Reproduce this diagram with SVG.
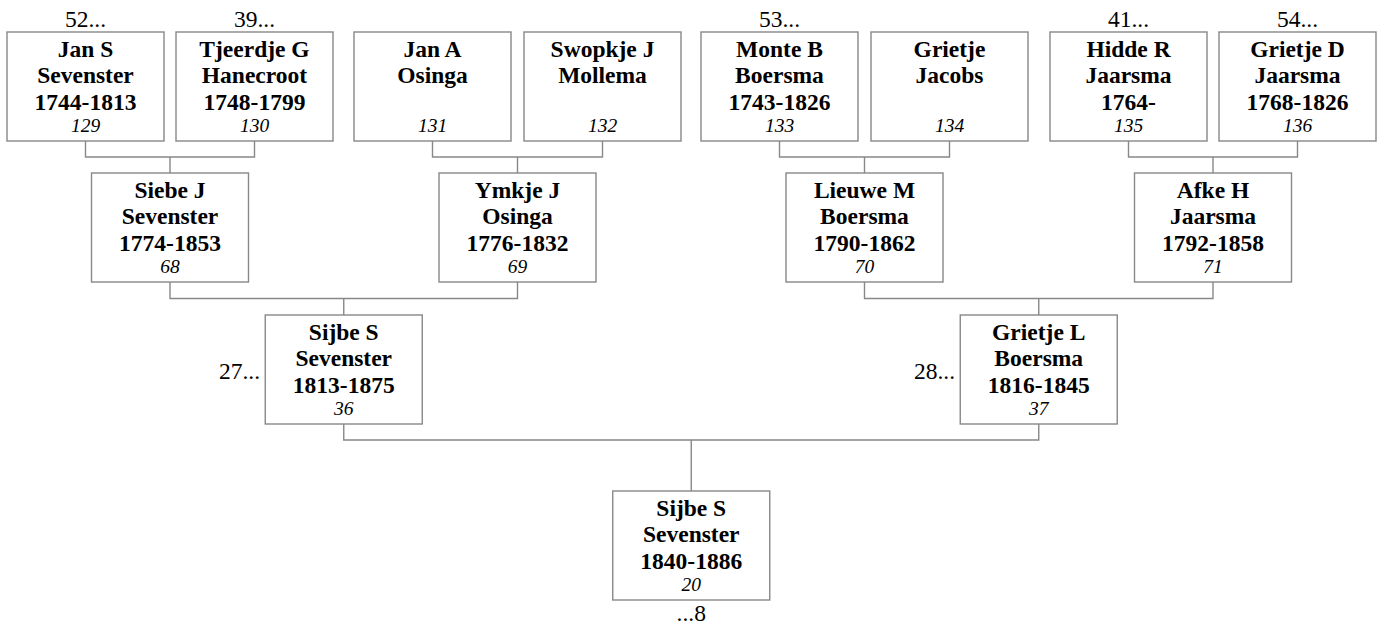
<svg xmlns="http://www.w3.org/2000/svg" width="1380" height="626" viewBox="0 0 1380 626">
<style>
rect.box{fill:#fff;stroke:#888;stroke-width:1.4}
.b{font-family:"Liberation Serif","Times New Roman",serif;font-weight:bold;font-size:23.5px;text-anchor:middle;fill:#000}
.i{font-family:"Liberation Serif","Times New Roman",serif;font-style:italic;font-size:19.5px;text-anchor:middle;fill:#000}
.r{font-family:"Liberation Serif","Times New Roman",serif;font-size:23.5px;fill:#000}
#connectors path{fill:none;stroke:#888;stroke-width:1.4}
</style>
<rect width="1380" height="626" fill="#fff"/>
<g id="connectors">
<path d="M85.5 141V157H254.5V141M170 157V173"/>
<path d="M432.5 141V157H602.5V141M517.5 157V173"/>
<path d="M779.5 141V157H949.5V141M864.5 157V173"/>
<path d="M1128.5 141V157H1297.5V141M1213 157V173"/>
<path d="M170 282V298.5H517.5V282M343.75 298.5V315"/>
<path d="M864.5 282V298.5H1213V282M1038.75 298.5V315"/>
<path d="M343.75 424V440H1038.75V424M691.25 440V491"/>
</g>
<g id="n129"><rect class="box" x="7" y="32" width="157" height="109"/>
<text class="r" x="85.5" y="26.5" text-anchor="middle">52...</text>
<text class="b" x="85.5" y="56.5">Jan S</text><text class="b" x="85.5" y="83">Sevenster</text><text class="b" x="85.5" y="109.6">1744-1813</text><text class="i" x="85.5" y="131.5">129</text></g>
<g id="n130"><rect class="box" x="176" y="32" width="157" height="109"/>
<text class="r" x="254.5" y="26.5" text-anchor="middle">39...</text>
<text class="b" x="254.5" y="56.5">Tjeerdje G</text><text class="b" x="254.5" y="83">Hanecroot</text><text class="b" x="254.5" y="109.6">1748-1799</text><text class="i" x="254.5" y="131.5">130</text></g>
<g id="n131"><rect class="box" x="354" y="32" width="157" height="109"/>
<text class="b" x="432.5" y="56.5">Jan A</text><text class="b" x="432.5" y="83">Osinga</text><text class="i" x="432.5" y="131.5">131</text></g>
<g id="n132"><rect class="box" x="524" y="32" width="157" height="109"/>
<text class="b" x="602.5" y="56.5">Swopkje J</text><text class="b" x="602.5" y="83">Mollema</text><text class="i" x="602.5" y="131.5">132</text></g>
<g id="n133"><rect class="box" x="701" y="32" width="157" height="109"/>
<text class="r" x="779.5" y="26.5" text-anchor="middle">53...</text>
<text class="b" x="779.5" y="56.5">Monte B</text><text class="b" x="779.5" y="83">Boersma</text><text class="b" x="779.5" y="109.6">1743-1826</text><text class="i" x="779.5" y="131.5">133</text></g>
<g id="n134"><rect class="box" x="871" y="32" width="157" height="109"/>
<text class="b" x="949.5" y="56.5">Grietje</text><text class="b" x="949.5" y="83">Jacobs</text><text class="i" x="949.5" y="131.5">134</text></g>
<g id="n135"><rect class="box" x="1050" y="32" width="157" height="109"/>
<text class="r" x="1128.5" y="26.5" text-anchor="middle">41...</text>
<text class="b" x="1128.5" y="56.5">Hidde R</text><text class="b" x="1128.5" y="83">Jaarsma</text><text class="b" x="1128.5" y="109.6">1764-</text><text class="i" x="1128.5" y="131.5">135</text></g>
<g id="n136"><rect class="box" x="1219" y="32" width="157" height="109"/>
<text class="r" x="1297.5" y="26.5" text-anchor="middle">54...</text>
<text class="b" x="1297.5" y="56.5">Grietje D</text><text class="b" x="1297.5" y="83">Jaarsma</text><text class="b" x="1297.5" y="109.6">1768-1826</text><text class="i" x="1297.5" y="131.5">136</text></g>
<g id="n68"><rect class="box" x="91.5" y="173" width="157" height="109"/>
<text class="b" x="170" y="197.5">Siebe J</text><text class="b" x="170" y="224">Sevenster</text><text class="b" x="170" y="250.6">1774-1853</text><text class="i" x="170" y="272.5">68</text></g>
<g id="n69"><rect class="box" x="439" y="173" width="157" height="109"/>
<text class="b" x="517.5" y="197.5">Ymkje J</text><text class="b" x="517.5" y="224">Osinga</text><text class="b" x="517.5" y="250.6">1776-1832</text><text class="i" x="517.5" y="272.5">69</text></g>
<g id="n70"><rect class="box" x="786" y="173" width="157" height="109"/>
<text class="b" x="864.5" y="197.5">Lieuwe M</text><text class="b" x="864.5" y="224">Boersma</text><text class="b" x="864.5" y="250.6">1790-1862</text><text class="i" x="864.5" y="272.5">70</text></g>
<g id="n71"><rect class="box" x="1134.5" y="173" width="157" height="109"/>
<text class="b" x="1213" y="197.5">Afke H</text><text class="b" x="1213" y="224">Jaarsma</text><text class="b" x="1213" y="250.6">1792-1858</text><text class="i" x="1213" y="272.5">71</text></g>
<g id="n36"><rect class="box" x="265.25" y="315" width="157" height="109"/>
<text class="r" x="260" y="379" text-anchor="end">27...</text>
<text class="b" x="343.75" y="339.5">Sijbe S</text><text class="b" x="343.75" y="366">Sevenster</text><text class="b" x="343.75" y="392.6">1813-1875</text><text class="i" x="343.75" y="414.5">36</text></g>
<g id="n37"><rect class="box" x="960.25" y="315" width="157" height="109"/>
<text class="r" x="955" y="379" text-anchor="end">28...</text>
<text class="b" x="1038.75" y="339.5">Grietje L</text><text class="b" x="1038.75" y="366">Boersma</text><text class="b" x="1038.75" y="392.6">1816-1845</text><text class="i" x="1038.75" y="414.5">37</text></g>
<g id="n20"><rect class="box" x="612.75" y="491" width="157" height="109"/>
<text class="b" x="691.25" y="515.5">Sijbe S</text><text class="b" x="691.25" y="542">Sevenster</text><text class="b" x="691.25" y="568.6">1840-1886</text><text class="i" x="691.25" y="590.5">20</text>
<text class="r" x="691.25" y="621" text-anchor="middle">...8</text></g>
</svg>
